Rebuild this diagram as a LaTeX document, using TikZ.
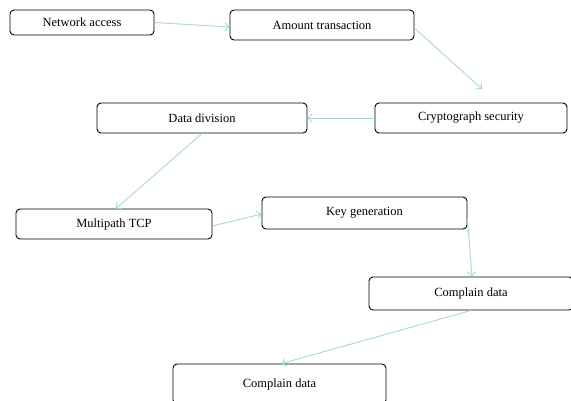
\documentclass[tikz,border=0pt]{standalone}
\usepackage{fontspec}
\setmainfont{Liberation Serif}
\usetikzlibrary{positioning, arrows.meta}
\definecolor{flowline}{RGB}{165,215,220}

\begin{document}
\begin{tikzpicture}[x=1pt, y=-1pt,
    >={Straight Barb[length=4pt, width=8pt]},
    step box/.style={draw, line width=0.9pt, rounded corners=4,
        font=\fontsize{12.5}{15}\selectfont},
    flow/.style={->, draw=flowline, line width=0.9pt}]
    \useasboundingbox (0,0) rectangle (571,400);
    \clip (0,0) rectangle (571,400);

    \node [step box,
        minimum width=144pt,
        minimum height=25pt
    ] (netacc) at (82,22.5) {Network access};

    \node [step box,
        minimum width=184pt,
        minimum height=30pt
    ] (amount) at (322,25) {Amount transaction};

    \node [step box,
        minimum width=192pt,
        minimum height=30pt
    ] (crypto) at (471,118) {Cryptograph security};

    \node [step box,
        minimum width=210pt,
        minimum height=30pt
    ] (datadiv) at (202,118) {Data division};

    \node [step box,
        minimum width=196pt,
        minimum height=30pt
    ] (multipath) at (114,224) {Multipath TCP};

    \node [step box,
        minimum width=205pt,
        minimum height=32pt
    ] (keygen) at (364.5,213) {Key generation};

    \node [step box,
        minimum width=204pt,
        minimum height=33pt
    ] (complain1) at (471,293.5) {Complain data};

    \node [step box,
        minimum width=213pt,
        minimum height=40pt
    ] (complain2) at (279.5,384) {Complain data};

    \coordinate (cryptoin) at (482,89);

    % connectors
    \draw[flow] (netacc.east) -- ([yshift=-2pt]amount.west);
    \draw[flow] ([yshift=-3pt]amount.east) -- (cryptoin);
    \draw[flow] (crypto.west) -- (datadiv.east);
    \draw[flow] (datadiv.south) -- ([xshift=2pt]multipath.north);
    \draw[flow] ([yshift=-2pt]multipath.east) -- ([yshift=-1pt]keygen.west);
    \draw[flow] ([yshift=-6pt]keygen.east) -- ([xshift=1pt]complain1.north);
    \draw[flow] (complain1.south) -- ([xshift=2pt]complain2.north);
\end{tikzpicture}
\end{document}
